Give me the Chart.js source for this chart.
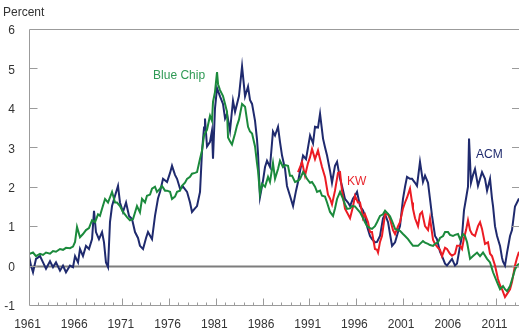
<!DOCTYPE html>
<html>
<head>
<meta charset="utf-8">
<script src="https://cdn.jsdelivr.net/npm/chart.js@4.4.1/dist/chart.umd.min.js"></script>
<style>
  html, body { margin: 0; padding: 0; background: #fff; }
  #wrap { width: 519px; height: 330px; }
</style>
</head>
<body>
<div id="wrap"><canvas id="c" width="519" height="330"></canvas></div>
<script>
// Axis ticks
const xTickYears = [1961, 1966, 1971, 1976, 1981, 1986, 1991, 1996, 2001, 2006, 2011];
const yTicks = [-1, 0, 1, 2, 3, 4, 5, 6];
const xMin = 1961, xMax = 2013.46;

// ACM term premium (percent)
const acmYears = [1961.00,1961.21,1961.43,1961.75,1962.18,1962.50,1962.82,1963.25,1963.57,1963.89,1964.32,1964.64,1964.96,1965.39,1965.71,1965.93,1966.25,1966.46,1966.78,1967.10,1967.42,1967.75,1967.96,1968.17,1968.49,1968.82,1969.03,1969.24,1969.46,1969.67,1969.89,1970.21,1970.53,1970.74,1971.06,1971.39,1971.71,1972.03,1972.35,1972.67,1972.88,1973.21,1973.53,1973.74,1974.17,1974.49,1974.81,1975.03,1975.35,1975.78,1976.10,1976.31,1976.63,1976.85,1977.17,1977.49,1977.92,1978.24,1978.45,1978.77,1978.99,1979.31,1979.52,1979.74,1979.84,1980.06,1980.38,1980.59,1980.70,1980.91,1981.13,1981.45,1981.77,1981.99,1982.20,1982.52,1982.84,1983.06,1983.27,1983.48,1983.81,1984.13,1984.45,1984.66,1984.88,1985.20,1985.41,1985.52,1985.73,1986.05,1986.27,1986.48,1986.80,1987.12,1987.34,1987.66,1987.87,1988.09,1988.41,1988.62,1988.94,1989.27,1989.59,1989.80,1990.02,1990.34,1990.66,1991.09,1991.41,1991.62,1991.94,1992.16,1992.48,1992.69,1992.91,1993.23,1993.44,1993.76,1993.98,1994.30,1994.51,1994.83,1995.15,1995.37,1995.69,1995.90,1996.12,1996.44,1996.76,1996.97,1997.19,1997.51,1997.72,1998.04,1998.26,1998.58,1998.90,1999.12,1999.44,1999.65,1999.87,2000.19,2000.51,2000.72,2001.04,2001.26,2001.47,2001.79,2002.01,2002.33,2002.54,2002.86,2003.18,2003.40,2003.72,2003.93,2004.15,2004.47,2004.68,2005.00,2005.22,2005.54,2005.75,2006.07,2006.29,2006.61,2006.82,2007.15,2007.36,2007.57,2007.79,2008.00,2008.11,2008.32,2008.54,2008.75,2009.07,2009.29,2009.50,2009.82,2010.04,2010.36,2010.57,2010.68,2010.89,2011.11,2011.43,2011.64,2011.75,2011.96,2012.18,2012.50,2012.71,2013.03,2013.25,2013.46];
const acmValues = [0.24,0.0,-0.17,0.17,0.24,0.08,-0.08,0.11,-0.04,0.08,-0.13,0.0,-0.17,0.0,-0.04,0.24,0.08,0.42,0.24,0.5,0.42,0.67,1.39,0.85,0.67,0.85,0.59,0.08,-0.04,1.1,1.51,1.77,2.02,1.6,1.36,1.6,1.26,1.18,0.85,0.7,0.5,0.42,0.7,0.85,0.67,1.26,1.7,1.87,2.2,2.12,2.35,2.53,2.3,2.2,1.95,2.0,1.87,1.6,1.36,1.45,1.51,1.87,2.89,3.5,3.73,3.02,3.14,3.42,2.71,3.98,4.5,4.29,4.1,3.73,3.85,3.42,4.18,3.9,4.1,4.3,5.05,4.29,4.54,4.2,4.1,3.67,3.2,2.84,1.74,2.15,2.5,2.66,2.5,3.4,3.3,3.52,3.14,2.79,2.45,2.02,1.77,1.51,1.9,2.12,2.4,2.79,2.7,3.3,3.1,3.52,3.5,3.85,3.22,3.0,2.79,2.4,2.1,2.53,2.63,2.2,2.02,1.69,1.6,1.51,1.7,1.77,1.87,1.51,1.4,1.26,1.0,0.75,0.67,0.59,0.6,0.75,1.2,1.3,1.1,0.8,0.5,0.59,0.85,1.0,1.69,2.0,2.25,2.2,2.2,2.1,2.02,2.63,2.12,2.28,2.1,1.69,1.26,0.75,0.67,0.35,0.24,0.05,0.0,0.1,0.17,0.0,0.05,0.5,0.75,1.4,1.7,2.0,3.22,2.1,2.3,2.45,2.02,2.2,2.37,2.2,1.9,2.2,1.7,1.51,1.0,0.75,0.5,0.2,0.1,0.0,0.33,0.75,0.9,1.5,1.6,1.7];

// Blue Chip survey-based term premium (percent)
const bcYears = [1961.00,1961.43,1961.75,1962.18,1962.50,1962.82,1963.25,1963.57,1963.89,1964.32,1964.64,1964.96,1965.39,1965.71,1965.93,1966.14,1966.46,1966.78,1967.10,1967.42,1967.75,1968.07,1968.39,1968.60,1968.82,1969.14,1969.46,1969.89,1970.21,1970.42,1970.74,1971.06,1971.49,1971.81,1972.14,1972.56,1972.88,1973.10,1973.42,1973.63,1973.96,1974.17,1974.49,1974.70,1975.03,1975.24,1975.56,1975.78,1976.10,1976.31,1976.63,1976.85,1977.17,1977.38,1977.70,1977.92,1978.24,1978.45,1978.77,1978.99,1979.31,1979.52,1979.74,1980.06,1980.38,1980.59,1980.70,1980.91,1981.13,1981.24,1981.45,1981.77,1981.99,1982.20,1982.31,1982.52,1982.73,1983.06,1983.27,1983.48,1983.81,1984.13,1984.45,1984.66,1984.88,1985.20,1985.41,1985.52,1985.73,1985.95,1986.27,1986.59,1986.80,1987.12,1987.34,1987.66,1987.87,1988.19,1988.41,1988.73,1988.94,1989.16,1989.48,1989.80,1990.02,1990.34,1990.55,1990.76,1991.09,1991.30,1991.62,1991.84,1992.16,1992.37,1992.69,1992.91,1993.23,1993.55,1993.76,1993.98,1994.30,1994.62,1994.83,1995.05,1995.37,1995.58,1995.90,1996.12,1996.44,1996.65,1996.97,1997.19,1997.51,1997.72,1998.04,1998.26,1998.58,1998.90,1999.12,1999.44,1999.65,1999.87,2000.19,2000.51,2000.72,2001.04,2001.26,2001.58,2001.79,2002.11,2002.33,2002.65,2002.86,2003.18,2003.40,2003.72,2003.93,2004.26,2004.47,2004.79,2005.00,2005.33,2005.54,2005.86,2006.07,2006.39,2006.61,2006.93,2007.15,2007.47,2007.68,2007.90,2008.22,2008.54,2008.97,2009.29,2009.61,2010.04,2010.36,2010.68,2011.11,2011.43,2011.75,2011.96,2012.18,2012.50,2012.82,2013.03,2013.25,2013.46];
const bcValues = [0.29,0.33,0.24,0.3,0.27,0.33,0.3,0.37,0.35,0.42,0.4,0.45,0.44,0.48,0.6,0.98,0.72,0.8,0.9,0.95,1.15,1.1,1.3,1.26,1.44,1.69,1.6,1.87,1.6,1.6,1.51,1.36,1.23,1.15,1.18,1.51,1.35,1.69,1.6,1.77,1.8,1.95,2.0,1.87,1.95,2.02,1.9,1.9,1.87,1.69,1.75,1.87,1.9,2.02,2.1,2.2,2.25,2.33,2.35,2.37,2.71,2.91,3.3,3.45,3.8,3.67,4.15,4.4,4.91,4.6,4.45,4.3,4.1,3.9,3.25,3.15,3.07,3.35,3.55,3.7,4.1,4.03,3.52,3.4,3.35,3.02,2.6,2.4,1.82,2.07,2.0,2.25,2.12,2.6,2.2,2.45,2.66,2.5,2.55,2.53,2.28,2.28,2.12,2.15,2.2,2.37,2.3,2.2,2.1,2.12,2.0,1.87,1.9,1.77,1.75,1.6,1.36,1.26,1.45,1.69,1.87,1.69,1.55,1.44,1.45,1.51,1.5,1.44,1.35,1.26,1.1,1.0,0.95,0.93,1.0,1.1,1.26,1.3,1.39,1.31,1.25,1.13,0.93,0.9,0.88,0.8,0.75,0.67,0.6,0.5,0.5,0.5,0.55,0.62,0.58,0.55,0.52,0.5,0.55,0.59,0.7,0.75,0.85,0.85,0.78,0.75,0.78,0.8,0.67,0.8,0.75,0.59,0.17,0.24,0.33,0.24,0.33,0.17,0.08,-0.17,-0.42,-0.6,-0.52,-0.6,-0.65,-0.52,-0.27,-0.1,0.0,0.05];

// KW term premium (percent)
const kwYears = [1989.80,1990.02,1990.23,1990.55,1990.87,1991.09,1991.30,1991.62,1991.94,1992.16,1992.37,1992.69,1993.01,1993.23,1993.44,1993.76,1994.08,1994.30,1994.51,1994.83,1995.15,1995.37,1995.69,1995.90,1996.22,1996.44,1996.65,1996.76,1996.97,1997.30,1997.51,1997.72,1998.04,1998.26,1998.37,1998.58,1998.79,1999.12,1999.44,1999.65,1999.97,2000.19,2000.51,2000.72,2001.04,2001.26,2001.47,2001.79,2002.01,2002.11,2002.33,2002.65,2002.86,2003.08,2003.40,2003.72,2003.93,2004.26,2004.47,2004.79,2005.00,2005.22,2005.54,2005.75,2006.07,2006.29,2006.61,2006.82,2007.15,2007.36,2007.57,2007.79,2008.00,2008.22,2008.43,2008.75,2009.07,2009.29,2009.50,2009.82,2010.14,2010.36,2010.57,2010.89,2011.21,2011.43,2011.64,2011.96,2012.29,2012.50,2012.71,2013.03,2013.25,2013.46];
const kwValues = [2.37,2.5,2.63,2.28,2.6,2.75,2.96,2.7,2.92,2.7,2.5,2.25,1.8,1.7,1.55,1.9,2.35,2.37,1.9,1.44,1.3,1.2,1.5,1.77,1.6,1.6,1.36,1.2,1.3,1.1,0.85,0.85,0.42,0.4,0.33,0.6,0.75,1.3,1.3,1.18,0.9,0.8,1.0,1.1,1.45,1.6,1.72,1.95,1.6,1.44,1.2,1.0,1.3,1.36,1.0,0.9,1.2,0.65,0.55,0.45,0.4,0.24,0.45,0.42,0.3,0.25,0.3,0.5,0.5,0.42,0.7,0.9,1.15,0.9,0.8,0.75,1.0,1.1,0.93,0.55,0.59,0.3,0.24,0.0,-0.34,-0.5,-0.6,-0.8,-0.68,-0.6,-0.42,0.0,0.2,0.35];

// Series name tags placed in data coordinates
const seriesTags = [
  { text: 'Blue Chip', x: 1974.28, y: 4.82, color: '#2f9a55' },
  { text: 'KW',        x: 1995.05, y: 2.12, color: '#e8262d' },
  { text: 'ACM',       x: 2008.86, y: 2.81, color: '#1f2a6e' }
];

const NAVY = '#1f2a6e', GREEN = '#1b8a3c', RED = '#ec1c24';
const FONT = '12px "Liberation Sans", Arial, sans-serif';

function zip(xs, ys) { return xs.map((x, i) => ({ x: x, y: ys[i] })); }

const framePlugin = {
  id: 'frame',
  beforeDatasetsDraw(chart) {
    const { ctx, chartArea: a, scales: { y } } = chart;
    const y0 = Math.round(y.getPixelForValue(0)) + 0.5;
    ctx.save();
    ctx.strokeStyle = '#7d7d7d';
    ctx.lineWidth = 1.8;
    ctx.beginPath();
    ctx.moveTo(a.left, y0);
    ctx.lineTo(a.right + 2, y0);
    ctx.stroke();
    ctx.restore();
  },
  afterDraw(chart) {
    const { ctx, chartArea: a, scales: { x, y } } = chart;
    const L = Math.round(a.left) + 0.5, T = Math.round(a.top) + 0.5, B = Math.round(a.bottom) + 0.5;
    const R = a.right;
    ctx.save();
    ctx.strokeStyle = '#9b9b9b';
    ctx.lineWidth = 1;
    ctx.beginPath();
    ctx.moveTo(L, T); ctx.lineTo(R + 2, T);
    ctx.moveTo(L, T); ctx.lineTo(L, B);
    ctx.moveTo(L, B); ctx.lineTo(R + 2, B);
    // inward y ticks on both sides
    yTicks.forEach(v => {
      if (v === -1 || v === 6) return;
      const py = Math.round(y.getPixelForValue(v)) + 0.5;
      ctx.moveTo(L, py); ctx.lineTo(L + 8, py);
      ctx.moveTo(R - 7, py); ctx.lineTo(R, py);
    });
    // inward x ticks: every year, longer every five
    for (let yr = xMin + 1; yr <= Math.floor(xMax); yr++) {
      const px = Math.round(x.getPixelForValue(yr)) + 0.5;
      const len = xTickYears.includes(yr) ? 7 : 3;
      ctx.moveTo(px, B); ctx.lineTo(px, B - len);
    }
    ctx.stroke();

    // tick labels
    ctx.fillStyle = '#333';
    ctx.font = FONT;
    ctx.textBaseline = 'middle';
    ctx.textAlign = 'right';
    yTicks.forEach(v => {
      ctx.fillText(String(v), 15, y.getPixelForValue(v) + 2);
    });
    ctx.textAlign = 'center';
    ctx.textBaseline = 'alphabetic';
    xTickYears.forEach(yr => {
      ctx.fillText(String(yr), x.getPixelForValue(yr) - 1.5, 328);
    });

    // unit label
    ctx.textAlign = 'left';
    ctx.textBaseline = 'middle';
    ctx.fillText('Percent', 3, 13);

    // series tags
    seriesTags.forEach(t => {
      ctx.fillStyle = t.color;
      ctx.fillText(t.text, x.getPixelForValue(t.x), y.getPixelForValue(t.y));
    });
    ctx.restore();
  }
};

const lineStyle = { borderWidth: 2, pointRadius: 0, tension: 0, fill: false };

new Chart(document.getElementById('c'), {
  type: 'line',
  data: {
    datasets: [
      Object.assign({ label: 'Blue Chip', data: zip(bcYears, bcValues), borderColor: GREEN, order: 0 }, lineStyle),
      Object.assign({ label: 'KW', data: zip(kwYears, kwValues), borderColor: RED, order: 1 }, lineStyle),
      Object.assign({ label: 'ACM', data: zip(acmYears, acmValues), borderColor: NAVY, order: 2 }, lineStyle)
    ]
  },
  options: {
    responsive: false,
    animation: false,
    devicePixelRatio: 1,
    layout: { padding: { left: 29, top: 29, right: 0, bottom: 25 } },
    plugins: { legend: { display: false }, tooltip: { enabled: false } },
    scales: {
      x: { type: 'linear', min: xMin, max: xMax, display: false },
      y: { type: 'linear', min: -1, max: 6, display: false }
    }
  },
  plugins: [framePlugin]
});
</script>
</body>
</html>
